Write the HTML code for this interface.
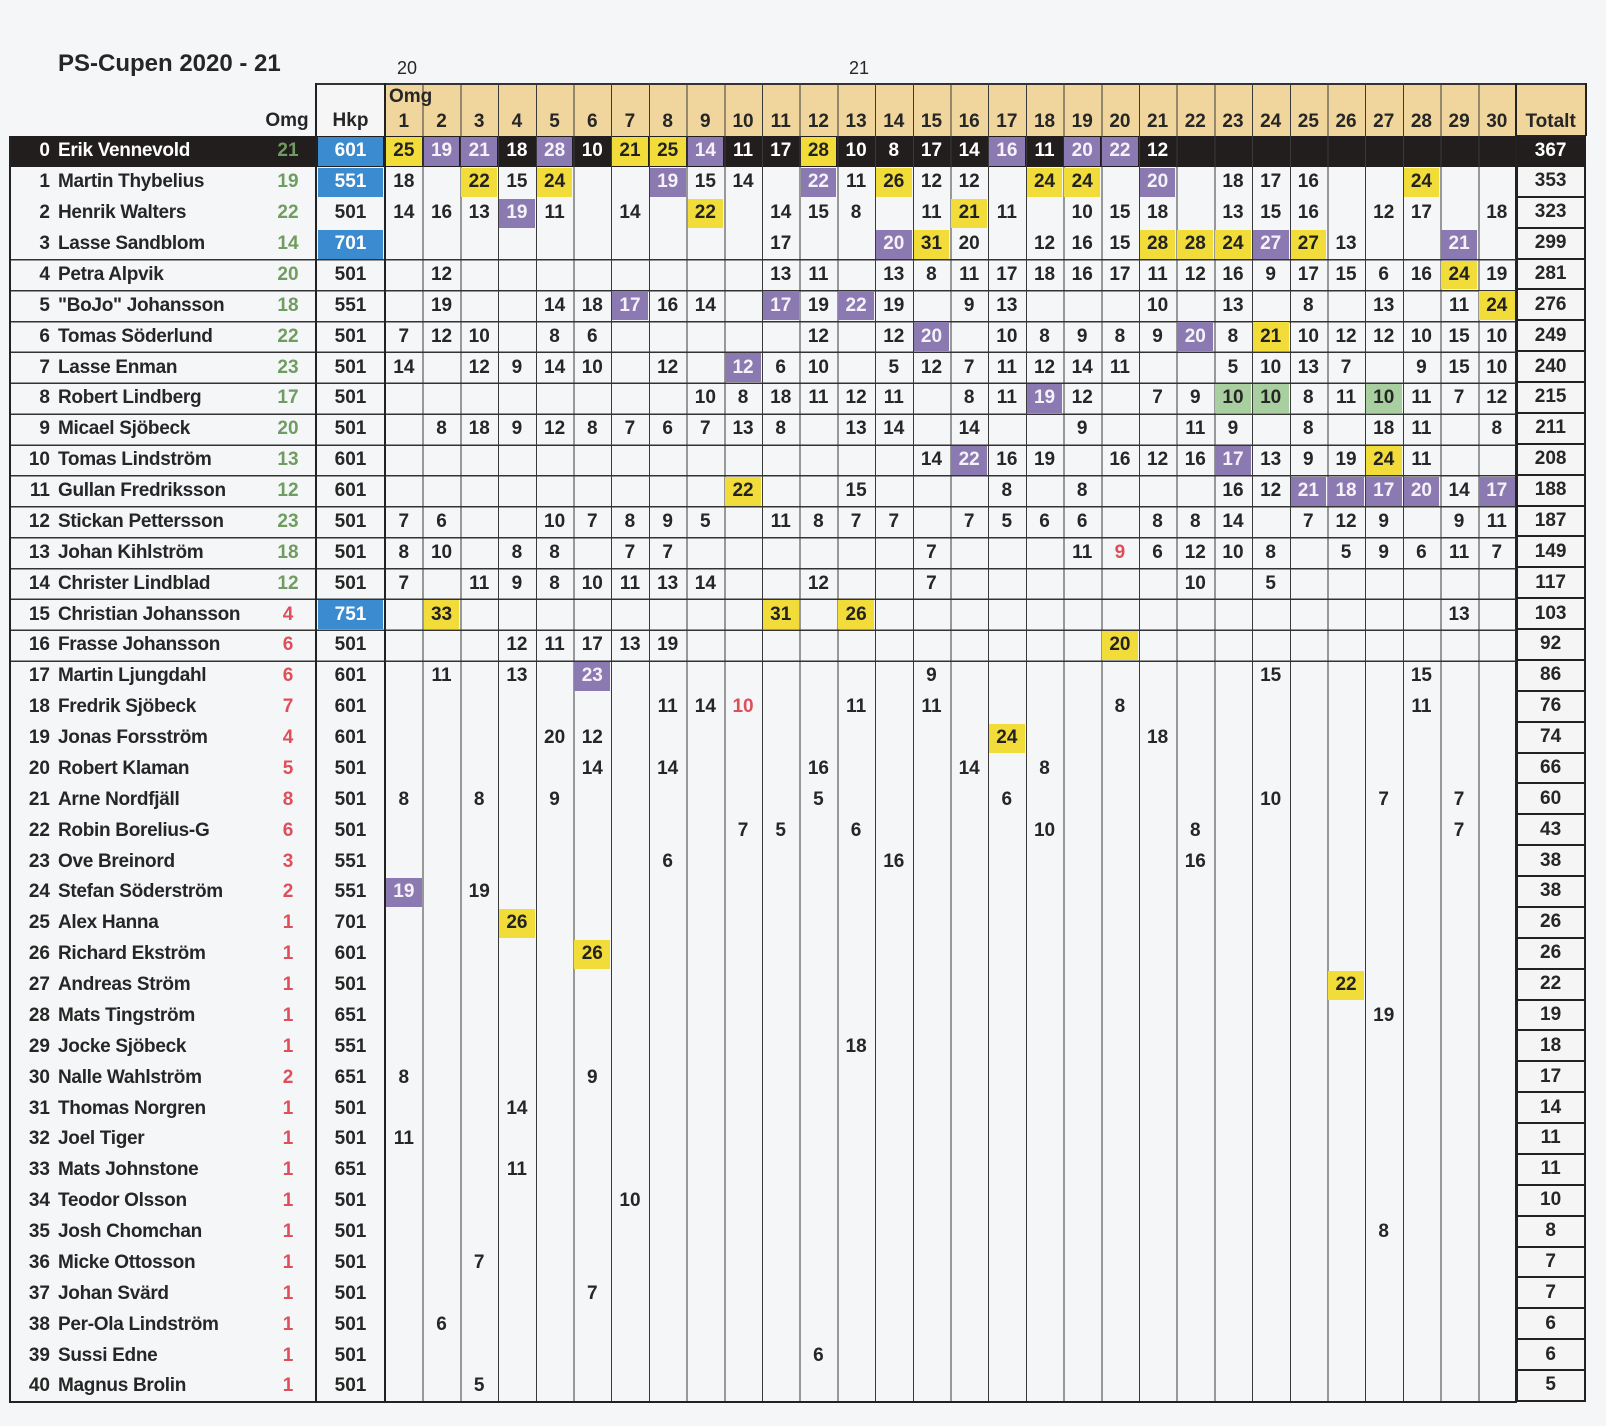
<!DOCTYPE html>
<html><head><meta charset="utf-8">
<style>
body{margin:0;width:1606px;height:1426px;background:#f5f6f7;position:relative;overflow:hidden;font-family:"Liberation Sans",sans-serif;font-weight:bold;font-size:19px;color:#262626}
.a{position:absolute}
.t{position:absolute;left:10px;top:136px;width:1576px;height:1266px;display:flex;flex-direction:column}
.r{flex:1;display:grid;grid-template-columns:40px 210px 56px 69px repeat(30,37.7px) 70px;grid-template-rows:100%}
.r>*{display:flex;align-items:center;justify-content:center;font-style:normal;grid-row:1;box-sizing:border-box}
.n{grid-column:1;justify-content:flex-end!important}
.m{grid-column:2;justify-content:flex-start!important;padding-left:8px;white-space:nowrap;letter-spacing:-0.3px}
.o{grid-column:3;color:#6f9c60}
.o.x{color:#de4f5c}
.h{grid-column:4}
.T{grid-column:35;border:2px solid #222;border-top:none;background:#f5f5f6}
.r0{color:#fff}
.r0 .T{background:transparent;border:none}
.b{background:#3b8bd0;color:#fff;margin:1px 2px}
.y{background:#f2dc3a;color:#222;margin:1px}
.p{background:#8b79b1;color:#f4f2f8;margin:1px}
.g{background:#a9cfa0;margin:1px}
.red{color:#de4f5c}
[k="1"]{grid-column:5}[k="2"]{grid-column:6}[k="3"]{grid-column:7}[k="4"]{grid-column:8}[k="5"]{grid-column:9}[k="6"]{grid-column:10}[k="7"]{grid-column:11}[k="8"]{grid-column:12}[k="9"]{grid-column:13}[k="10"]{grid-column:14}[k="11"]{grid-column:15}[k="12"]{grid-column:16}[k="13"]{grid-column:17}[k="14"]{grid-column:18}[k="15"]{grid-column:19}[k="16"]{grid-column:20}[k="17"]{grid-column:21}[k="18"]{grid-column:22}[k="19"]{grid-column:23}[k="20"]{grid-column:24}[k="21"]{grid-column:25}[k="22"]{grid-column:26}[k="23"]{grid-column:27}[k="24"]{grid-column:28}[k="25"]{grid-column:29}[k="26"]{grid-column:30}[k="27"]{grid-column:31}[k="28"]{grid-column:32}[k="29"]{grid-column:33}[k="30"]{grid-column:34}
.hd{position:absolute;top:83px;height:53px;display:grid;grid-template-columns:repeat(30,37.7px) 70px;left:385px}
.hd span{display:flex;align-items:flex-end;justify-content:center;padding-bottom:3px;box-sizing:border-box}
</style></head><body>
<div class="a" style="left:58px;top:50px;font-size:24px">PS-Cupen 2020 - 21</div>
<div class="a" style="left:397px;top:58px;font-weight:normal;font-size:18px">20</div>
<div class="a" style="left:849px;top:58px;font-weight:normal;font-size:18px">21</div>
<div class="a" style="left:385px;top:83px;width:1201px;height:53px;background:#f0d59d;border-top:2px solid #333;box-sizing:border-box"></div>
<div class="a" style="left:316px;top:83px;width:69px;height:53px;background:#f6f6f6;border-top:2px solid #333;box-sizing:border-box"></div>
<div class="a" style="left:10px;top:136px;width:1576px;height:31px;background:#221e1d"></div>
<div class="a" style="left:385px;top:83px;width:1133px;height:1319px;background:repeating-linear-gradient(to right,#3a3a3a 0 1px,transparent 1px 37.7px)"></div>
<div class="a" style="left:1515px;top:83px;width:2px;height:1319px;background:#222"></div>
<div class="a" style="left:1585px;top:83px;width:2px;height:53px;background:#222"></div>
<div class="a" style="left:10px;top:259px;width:1506px;height:404px;background:repeating-linear-gradient(to bottom,#333 0 1.5px,transparent 1.5px 30.878px)"></div>
<div class="a" style="left:9px;top:136px;width:2px;height:1267px;background:#222"></div>
<div class="a" style="left:315px;top:83px;width:2px;height:1320px;background:#222"></div>
<div class="a" style="left:384px;top:83px;width:2px;height:1320px;background:#222"></div>
<div class="a" style="left:9px;top:1401px;width:1508px;height:2px;background:#222"></div>
<div class="a" style="left:1516px;top:135px;width:70px;height:2px;background:#222"></div>
<div class="a" style="left:262px;top:110px;width:50px;text-align:center">Omg</div>
<div class="a" style="left:316px;top:110px;width:69px;text-align:center">Hkp</div>
<div class="a" style="left:389px;top:86px">Omg</div>
<div class="hd"><span>1</span><span>2</span><span>3</span><span>4</span><span>5</span><span>6</span><span>7</span><span>8</span><span>9</span><span>10</span><span>11</span><span>12</span><span>13</span><span>14</span><span>15</span><span>16</span><span>17</span><span>18</span><span>19</span><span>20</span><span>21</span><span>22</span><span>23</span><span>24</span><span>25</span><span>26</span><span>27</span><span>28</span><span>29</span><span>30</span><span>Totalt</span></div>

<div class="t">
<div class="r r0"><i class=n>0</i><i class=m>Erik Vennevold</i><i class=o>21</i><i class="h b">601</i><i k=1 class=y>25</i><i k=2 class=p>19</i><i k=3 class=p>21</i><i k=4>18</i><i k=5 class=p>28</i><i k=6>10</i><i k=7 class=y>21</i><i k=8 class=y>25</i><i k=9 class=p>14</i><i k=10>11</i><i k=11>17</i><i k=12 class=y>28</i><i k=13>10</i><i k=14>8</i><i k=15>17</i><i k=16>14</i><i k=17 class=p>16</i><i k=18>11</i><i k=19 class=p>20</i><i k=20 class=p>22</i><i k=21>12</i><i class=T>367</i></div>
<div class="r"><i class=n>1</i><i class=m>Martin Thybelius</i><i class=o>19</i><i class="h b">551</i><i k=1>18</i><i k=3 class=y>22</i><i k=4>15</i><i k=5 class=y>24</i><i k=8 class=p>19</i><i k=9>15</i><i k=10>14</i><i k=12 class=p>22</i><i k=13>11</i><i k=14 class=y>26</i><i k=15>12</i><i k=16>12</i><i k=18 class=y>24</i><i k=19 class=y>24</i><i k=21 class=p>20</i><i k=23>18</i><i k=24>17</i><i k=25>16</i><i k=28 class=y>24</i><i class=T>353</i></div>
<div class="r"><i class=n>2</i><i class=m>Henrik Walters</i><i class=o>22</i><i class=h>501</i><i k=1>14</i><i k=2>16</i><i k=3>13</i><i k=4 class=p>19</i><i k=5>11</i><i k=7>14</i><i k=9 class=y>22</i><i k=11>14</i><i k=12>15</i><i k=13>8</i><i k=15>11</i><i k=16 class=y>21</i><i k=17>11</i><i k=19>10</i><i k=20>15</i><i k=21>18</i><i k=23>13</i><i k=24>15</i><i k=25>16</i><i k=27>12</i><i k=28>17</i><i k=30>18</i><i class=T>323</i></div>
<div class="r"><i class=n>3</i><i class=m>Lasse Sandblom</i><i class=o>14</i><i class="h b">701</i><i k=11>17</i><i k=14 class=p>20</i><i k=15 class=y>31</i><i k=16>20</i><i k=18>12</i><i k=19>16</i><i k=20>15</i><i k=21 class=y>28</i><i k=22 class=y>28</i><i k=23 class=y>24</i><i k=24 class=p>27</i><i k=25 class=y>27</i><i k=26>13</i><i k=29 class=p>21</i><i class=T>299</i></div>
<div class="r"><i class=n>4</i><i class=m>Petra Alpvik</i><i class=o>20</i><i class=h>501</i><i k=2>12</i><i k=11>13</i><i k=12>11</i><i k=14>13</i><i k=15>8</i><i k=16>11</i><i k=17>17</i><i k=18>18</i><i k=19>16</i><i k=20>17</i><i k=21>11</i><i k=22>12</i><i k=23>16</i><i k=24>9</i><i k=25>17</i><i k=26>15</i><i k=27>6</i><i k=28>16</i><i k=29 class=y>24</i><i k=30>19</i><i class=T>281</i></div>
<div class="r"><i class=n>5</i><i class=m>"BoJo" Johansson</i><i class=o>18</i><i class=h>551</i><i k=2>19</i><i k=5>14</i><i k=6>18</i><i k=7 class=p>17</i><i k=8>16</i><i k=9>14</i><i k=11 class=p>17</i><i k=12>19</i><i k=13 class=p>22</i><i k=14>19</i><i k=16>9</i><i k=17>13</i><i k=21>10</i><i k=23>13</i><i k=25>8</i><i k=27>13</i><i k=29>11</i><i k=30 class=y>24</i><i class=T>276</i></div>
<div class="r"><i class=n>6</i><i class=m>Tomas Söderlund</i><i class=o>22</i><i class=h>501</i><i k=1>7</i><i k=2>12</i><i k=3>10</i><i k=5>8</i><i k=6>6</i><i k=12>12</i><i k=14>12</i><i k=15 class=p>20</i><i k=17>10</i><i k=18>8</i><i k=19>9</i><i k=20>8</i><i k=21>9</i><i k=22 class=p>20</i><i k=23>8</i><i k=24 class=y>21</i><i k=25>10</i><i k=26>12</i><i k=27>12</i><i k=28>10</i><i k=29>15</i><i k=30>10</i><i class=T>249</i></div>
<div class="r"><i class=n>7</i><i class=m>Lasse Enman</i><i class=o>23</i><i class=h>501</i><i k=1>14</i><i k=3>12</i><i k=4>9</i><i k=5>14</i><i k=6>10</i><i k=8>12</i><i k=10 class=p>12</i><i k=11>6</i><i k=12>10</i><i k=14>5</i><i k=15>12</i><i k=16>7</i><i k=17>11</i><i k=18>12</i><i k=19>14</i><i k=20>11</i><i k=23>5</i><i k=24>10</i><i k=25>13</i><i k=26>7</i><i k=28>9</i><i k=29>15</i><i k=30>10</i><i class=T>240</i></div>
<div class="r"><i class=n>8</i><i class=m>Robert Lindberg</i><i class=o>17</i><i class=h>501</i><i k=9>10</i><i k=10>8</i><i k=11>18</i><i k=12>11</i><i k=13>12</i><i k=14>11</i><i k=16>8</i><i k=17>11</i><i k=18 class=p>19</i><i k=19>12</i><i k=21>7</i><i k=22>9</i><i k=23 class=g>10</i><i k=24 class=g>10</i><i k=25>8</i><i k=26>11</i><i k=27 class=g>10</i><i k=28>11</i><i k=29>7</i><i k=30>12</i><i class=T>215</i></div>
<div class="r"><i class=n>9</i><i class=m>Micael Sjöbeck</i><i class=o>20</i><i class=h>501</i><i k=2>8</i><i k=3>18</i><i k=4>9</i><i k=5>12</i><i k=6>8</i><i k=7>7</i><i k=8>6</i><i k=9>7</i><i k=10>13</i><i k=11>8</i><i k=13>13</i><i k=14>14</i><i k=16>14</i><i k=19>9</i><i k=22>11</i><i k=23>9</i><i k=25>8</i><i k=27>18</i><i k=28>11</i><i k=30>8</i><i class=T>211</i></div>
<div class="r"><i class=n>10</i><i class=m>Tomas Lindström</i><i class=o>13</i><i class=h>601</i><i k=15>14</i><i k=16 class=p>22</i><i k=17>16</i><i k=18>19</i><i k=20>16</i><i k=21>12</i><i k=22>16</i><i k=23 class=p>17</i><i k=24>13</i><i k=25>9</i><i k=26>19</i><i k=27 class=y>24</i><i k=28>11</i><i class=T>208</i></div>
<div class="r"><i class=n>11</i><i class=m>Gullan Fredriksson</i><i class=o>12</i><i class=h>601</i><i k=10 class=y>22</i><i k=13>15</i><i k=17>8</i><i k=19>8</i><i k=23>16</i><i k=24>12</i><i k=25 class=p>21</i><i k=26 class=p>18</i><i k=27 class=p>17</i><i k=28 class=p>20</i><i k=29>14</i><i k=30 class=p>17</i><i class=T>188</i></div>
<div class="r"><i class=n>12</i><i class=m>Stickan Pettersson</i><i class=o>23</i><i class=h>501</i><i k=1>7</i><i k=2>6</i><i k=5>10</i><i k=6>7</i><i k=7>8</i><i k=8>9</i><i k=9>5</i><i k=11>11</i><i k=12>8</i><i k=13>7</i><i k=14>7</i><i k=16>7</i><i k=17>5</i><i k=18>6</i><i k=19>6</i><i k=21>8</i><i k=22>8</i><i k=23>14</i><i k=25>7</i><i k=26>12</i><i k=27>9</i><i k=29>9</i><i k=30>11</i><i class=T>187</i></div>
<div class="r"><i class=n>13</i><i class=m>Johan Kihlström</i><i class=o>18</i><i class=h>501</i><i k=1>8</i><i k=2>10</i><i k=4>8</i><i k=5>8</i><i k=7>7</i><i k=8>7</i><i k=15>7</i><i k=19>11</i><i k=20 class=red>9</i><i k=21>6</i><i k=22>12</i><i k=23>10</i><i k=24>8</i><i k=26>5</i><i k=27>9</i><i k=28>6</i><i k=29>11</i><i k=30>7</i><i class=T>149</i></div>
<div class="r"><i class=n>14</i><i class=m>Christer Lindblad</i><i class=o>12</i><i class=h>501</i><i k=1>7</i><i k=3>11</i><i k=4>9</i><i k=5>8</i><i k=6>10</i><i k=7>11</i><i k=8>13</i><i k=9>14</i><i k=12>12</i><i k=15>7</i><i k=22>10</i><i k=24>5</i><i class=T>117</i></div>
<div class="r"><i class=n>15</i><i class=m>Christian Johansson</i><i class="o x">4</i><i class="h b">751</i><i k=2 class=y>33</i><i k=11 class=y>31</i><i k=13 class=y>26</i><i k=29>13</i><i class=T>103</i></div>
<div class="r"><i class=n>16</i><i class=m>Frasse Johansson</i><i class="o x">6</i><i class=h>501</i><i k=4>12</i><i k=5>11</i><i k=6>17</i><i k=7>13</i><i k=8>19</i><i k=20 class=y>20</i><i class=T>92</i></div>
<div class="r"><i class=n>17</i><i class=m>Martin Ljungdahl</i><i class="o x">6</i><i class=h>601</i><i k=2>11</i><i k=4>13</i><i k=6 class=p>23</i><i k=15>9</i><i k=24>15</i><i k=28>15</i><i class=T>86</i></div>
<div class="r"><i class=n>18</i><i class=m>Fredrik Sjöbeck</i><i class="o x">7</i><i class=h>601</i><i k=8>11</i><i k=9>14</i><i k=10 class=red>10</i><i k=13>11</i><i k=15>11</i><i k=20>8</i><i k=28>11</i><i class=T>76</i></div>
<div class="r"><i class=n>19</i><i class=m>Jonas Forsström</i><i class="o x">4</i><i class=h>601</i><i k=5>20</i><i k=6>12</i><i k=17 class=y>24</i><i k=21>18</i><i class=T>74</i></div>
<div class="r"><i class=n>20</i><i class=m>Robert Klaman</i><i class="o x">5</i><i class=h>501</i><i k=6>14</i><i k=8>14</i><i k=12>16</i><i k=16>14</i><i k=18>8</i><i class=T>66</i></div>
<div class="r"><i class=n>21</i><i class=m>Arne Nordfjäll</i><i class="o x">8</i><i class=h>501</i><i k=1>8</i><i k=3>8</i><i k=5>9</i><i k=12>5</i><i k=17>6</i><i k=24>10</i><i k=27>7</i><i k=29>7</i><i class=T>60</i></div>
<div class="r"><i class=n>22</i><i class=m>Robin Borelius-G</i><i class="o x">6</i><i class=h>501</i><i k=10>7</i><i k=11>5</i><i k=13>6</i><i k=18>10</i><i k=22>8</i><i k=29>7</i><i class=T>43</i></div>
<div class="r"><i class=n>23</i><i class=m>Ove Breinord</i><i class="o x">3</i><i class=h>551</i><i k=8>6</i><i k=14>16</i><i k=22>16</i><i class=T>38</i></div>
<div class="r"><i class=n>24</i><i class=m>Stefan Söderström</i><i class="o x">2</i><i class=h>551</i><i k=1 class=p>19</i><i k=3>19</i><i class=T>38</i></div>
<div class="r"><i class=n>25</i><i class=m>Alex Hanna</i><i class="o x">1</i><i class=h>701</i><i k=4 class=y>26</i><i class=T>26</i></div>
<div class="r"><i class=n>26</i><i class=m>Richard Ekström</i><i class="o x">1</i><i class=h>601</i><i k=6 class=y>26</i><i class=T>26</i></div>
<div class="r"><i class=n>27</i><i class=m>Andreas Ström</i><i class="o x">1</i><i class=h>501</i><i k=26 class=y>22</i><i class=T>22</i></div>
<div class="r"><i class=n>28</i><i class=m>Mats Tingström</i><i class="o x">1</i><i class=h>651</i><i k=27>19</i><i class=T>19</i></div>
<div class="r"><i class=n>29</i><i class=m>Jocke Sjöbeck</i><i class="o x">1</i><i class=h>551</i><i k=13>18</i><i class=T>18</i></div>
<div class="r"><i class=n>30</i><i class=m>Nalle Wahlström</i><i class="o x">2</i><i class=h>651</i><i k=1>8</i><i k=6>9</i><i class=T>17</i></div>
<div class="r"><i class=n>31</i><i class=m>Thomas Norgren</i><i class="o x">1</i><i class=h>501</i><i k=4>14</i><i class=T>14</i></div>
<div class="r"><i class=n>32</i><i class=m>Joel Tiger</i><i class="o x">1</i><i class=h>501</i><i k=1>11</i><i class=T>11</i></div>
<div class="r"><i class=n>33</i><i class=m>Mats Johnstone</i><i class="o x">1</i><i class=h>651</i><i k=4>11</i><i class=T>11</i></div>
<div class="r"><i class=n>34</i><i class=m>Teodor Olsson</i><i class="o x">1</i><i class=h>501</i><i k=7>10</i><i class=T>10</i></div>
<div class="r"><i class=n>35</i><i class=m>Josh Chomchan</i><i class="o x">1</i><i class=h>501</i><i k=27>8</i><i class=T>8</i></div>
<div class="r"><i class=n>36</i><i class=m>Micke Ottosson</i><i class="o x">1</i><i class=h>501</i><i k=3>7</i><i class=T>7</i></div>
<div class="r"><i class=n>37</i><i class=m>Johan Svärd</i><i class="o x">1</i><i class=h>501</i><i k=6>7</i><i class=T>7</i></div>
<div class="r"><i class=n>38</i><i class=m>Per-Ola Lindström</i><i class="o x">1</i><i class=h>501</i><i k=2>6</i><i class=T>6</i></div>
<div class="r"><i class=n>39</i><i class=m>Sussi Edne</i><i class="o x">1</i><i class=h>501</i><i k=12>6</i><i class=T>6</i></div>
<div class="r"><i class=n>40</i><i class=m>Magnus Brolin</i><i class="o x">1</i><i class=h>501</i><i k=3>5</i><i class=T>5</i></div>
</div>
</body></html>
